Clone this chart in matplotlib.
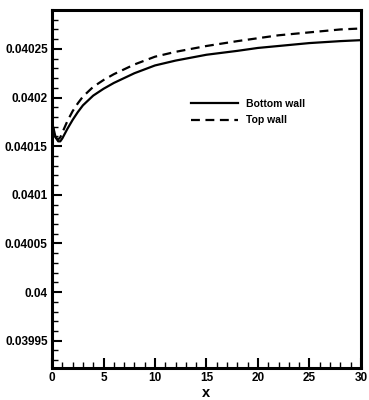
import matplotlib
matplotlib.use('Agg')
import matplotlib.pyplot as plt
from matplotlib.ticker import MultipleLocator, FuncFormatter

plt.rcParams.update({
    'font.family': 'Liberation Sans',
    'font.weight': 'bold',
    'font.size': 8.5,
})

# wall quantity along x
x_vals = [0, 0.15, 0.35, 0.6, 0.8, 1.0, 1.5, 2, 2.5, 3, 4, 5, 6, 8, 10,
          12, 15, 18, 20, 22, 25, 28, 30]
bottom_wall = [0.040174, 0.040168, 0.040159, 0.040155, 0.040155, 0.040158,
               0.040168, 0.040177, 0.040185, 0.040192, 0.040202, 0.040209,
               0.040215, 0.040225, 0.040233, 0.040238, 0.040244, 0.040248,
               0.040251, 0.040253, 0.040256, 0.040258, 0.040259]
top_wall = [0.040174, 0.040167, 0.040159, 0.040157, 0.040159, 0.040164,
            0.040176, 0.040186, 0.040194, 0.040201, 0.040211, 0.040218,
            0.040224, 0.040234, 0.040242, 0.040247, 0.040253, 0.040258,
            0.040261, 0.040264, 0.040267, 0.040270, 0.040271]

fig = plt.figure(figsize=(3.69, 4.0), dpi=100)
ax = fig.add_axes([0.141, 0.08, 0.837, 0.895])

ax.plot(x_vals, bottom_wall, '-', color='black', lw=1.6, label='Bottom wall')
ax.plot(x_vals, top_wall, color='black', lw=1.6, linestyle=(0, (4, 2.5)),
        label='Top wall')

ax.set_xlim(0, 30)
ax.set_ylim(0.039922, 0.04029)

ax.xaxis.set_major_locator(MultipleLocator(5))
ax.xaxis.set_minor_locator(MultipleLocator(1))
ax.yaxis.set_major_locator(MultipleLocator(0.00005))
ax.yaxis.set_minor_locator(MultipleLocator(0.00001))
ax.yaxis.set_major_formatter(FuncFormatter(lambda v, p: f'{v:.5f}'.rstrip('0')))
ax.xaxis.set_major_formatter(FuncFormatter(lambda v, p: f'{v:g}'))

ax.tick_params(which='major', direction='in', length=7, width=1.5, labelsize=8.5, pad=3)
ax.tick_params(which='minor', direction='in', length=4, width=1.0)
for s in ax.spines.values():
    s.set_linewidth(2.2)

ax.set_xlabel('x', fontsize=10.5, fontweight='bold', labelpad=1)

ax.legend(loc='center left', bbox_to_anchor=(0.42, 0.715), frameon=False,
          handlelength=4.5, fontsize=7.5, labelspacing=0.6, handletextpad=0.8)

fig.savefig('out.png', dpi=100)
